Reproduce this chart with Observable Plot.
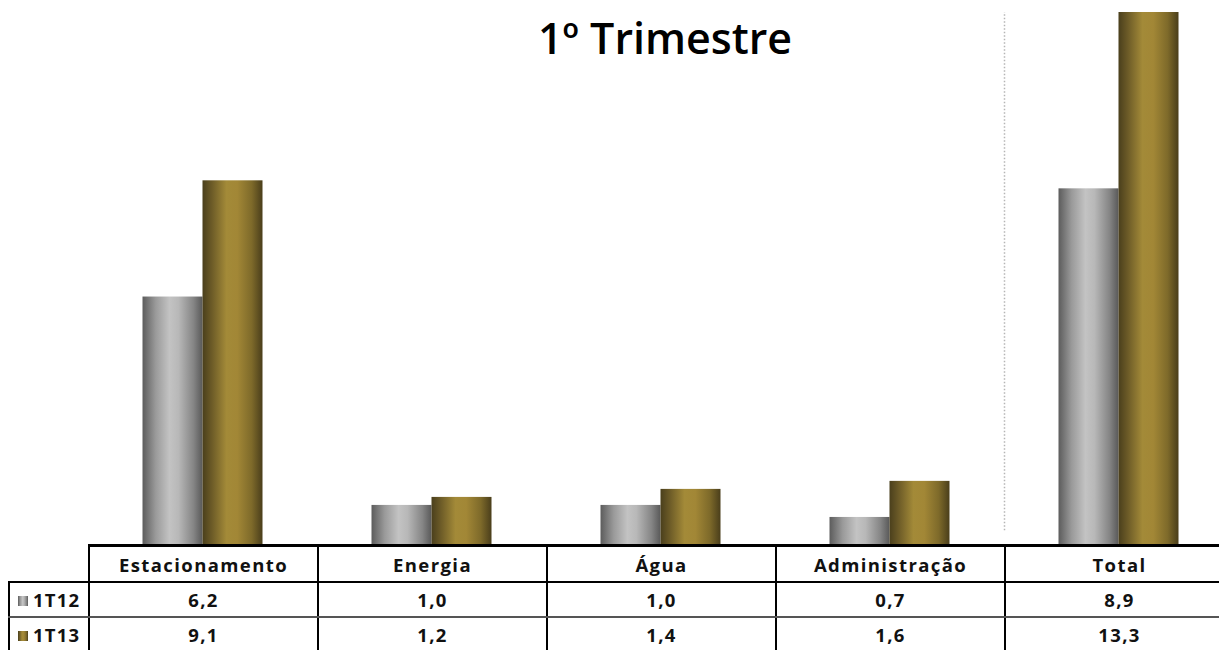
<!DOCTYPE html>
<html>
<head>
<meta charset="utf-8">
<script src="https://cdn.jsdelivr.net/npm/d3@7"></script>
<script src="https://cdn.jsdelivr.net/npm/@observablehq/plot@0.6"></script>
<style>
  html, body { margin: 0; padding: 0; background: #fff; overflow: hidden; }
  #wrap { position: relative; width: 1219px; height: 650px; overflow: hidden; font-family: "Open Sans", sans-serif; }
  #title { position: absolute; top: 8px; left: 465px; width: 400px; text-align: center; font-size: 43px; font-weight: 600; color: #000; }
  #chart { position: absolute; left: 0; top: 0; }
  table { position: absolute; left: 8px; top: 544px; width: 1225px; border-collapse: collapse; table-layout: fixed; font-weight: 700; font-size: 18.5px; letter-spacing: 1.4px; color: #111; }
  td { padding: 0; text-align: center; border: 2px solid #000; white-space: nowrap; }
  tr.head td { height: 34px; border-top: 3px solid #000; }
  tr.head td.corner { border-top: none; border-left: none; }
  tr.r1 td { height: 33px; border-bottom: 2px solid #555; }
  tr.r2 td { height: 33px; }
  td.lab { text-align: left; padding-left: 8px; letter-spacing: 1.2px; }
  .sw { display: inline-block; width: 10px; height: 10px; margin-right: 5px; vertical-align: 1px; }
</style>
</head>
<body>
<div id="wrap">
  <div id="chart"></div>
  <div id="title"></div>
  <table id="tbl"></table>
</div>
<script>
// Chart data
const titleText = "1º Trimestre";
const categories = ["Estacionamento", "Energia", "Água", "Administração", "Total"];
const series = ["1T12", "1T13"];
const values1T12 = [6.2, 1.0, 1.0, 0.7, 8.9];
const values1T13 = [9.1, 1.2, 1.4, 1.6, 13.3];

const seriesValues = {"1T12": values1T12, "1T13": values1T13};
const gradientIds = {"1T12": "grad-silver", "1T13": "grad-gold"};
const gradientStops = {
  "grad-silver": [[0, "#5c5c5c"], [0.22, "#9a9a9a"], [0.45, "#c3c3c3"], [0.6, "#b8b8b8"], [0.85, "#858585"], [1, "#595959"]],
  "grad-gold": [[0, "#4a3f1c"], [0.15, "#6b5a27"], [0.4, "#a38a38"], [0.58, "#a28736"], [0.82, "#7e6a2a"], [1, "#4a3e1b"]]
};

// Long-format rows: one per category and series
const rows = series.flatMap(s => categories.map((c, i) => ({category: c, index: i, series: s, value: seriesValues[s][i]})));

// Share of each category slot left empty on either side of its pair of bars
const sideGap = 0.238;

const fmt = v => v.toFixed(1).replace(".", ",");

// SVG gradients used to shade the bars like cylinders
const gradients = () => {
  const defs = d3.create("svg:defs");
  for (const [id, stops] of Object.entries(gradientStops)) {
    const g = defs.append("linearGradient").attr("id", id).attr("x1", 0).attr("x2", 1).attr("y1", 0).attr("y2", 0);
    for (const [o, c] of stops) g.append("stop").attr("offset", o).attr("stop-color", c);
  }
  return defs.node();
};

const chart = Plot.plot({
  width: 1219,
  height: 545,
  marginTop: 12,
  marginBottom: 0,
  marginLeft: 0,
  marginRight: 0,
  x: {type: "linear", domain: [0, categories.length], range: [88, 88 + 229 * categories.length], axis: null},
  y: {domain: [0, d3.max(values1T13)], axis: null},
  marks: [
    gradients,
    Plot.ruleX([categories.length - 1], {y1: 0.37, y2: d3.max(values1T13), stroke: "#b5b5b5", strokeWidth: 1.5, strokeDasharray: "1.5,2"}),
    Plot.rectY(rows, {
      x1: d => d.index + (d.series === "1T12" ? sideGap : 0.5),
      x2: d => d.index + (d.series === "1T12" ? 0.5 : 1 - sideGap),
      y1: 0,
      y2: "value",
      fill: d => `url(#${gradientIds[d.series]})`
    })
  ]
});
document.getElementById("chart").append(chart);
document.getElementById("title").textContent = titleText;

// Data table under the bars
const tbl = d3.select("#tbl");
const colgroup = tbl.append("colgroup");
colgroup.append("col").style("width", "80px");
categories.forEach(() => colgroup.append("col").style("width", "229px"));
const head = tbl.append("tr").attr("class", "head");
head.append("td").attr("class", "corner");
categories.forEach(c => head.append("td").text(c));
series.forEach((s, k) => {
  const tr = tbl.append("tr").attr("class", k === 0 ? "r1" : "r2");
  const lab = tr.append("td").attr("class", "lab");
  const stops = gradientStops[gradientIds[s]].map(([o, c]) => `${c} ${o * 100}%`).join(",");
  lab.append("span").attr("class", "sw").style("background", `linear-gradient(to right, ${stops})`);
  lab.append("span").text(s);
  seriesValues[s].forEach(v => tr.append("td").text(fmt(v)));
});
</script>
</body>
</html>
